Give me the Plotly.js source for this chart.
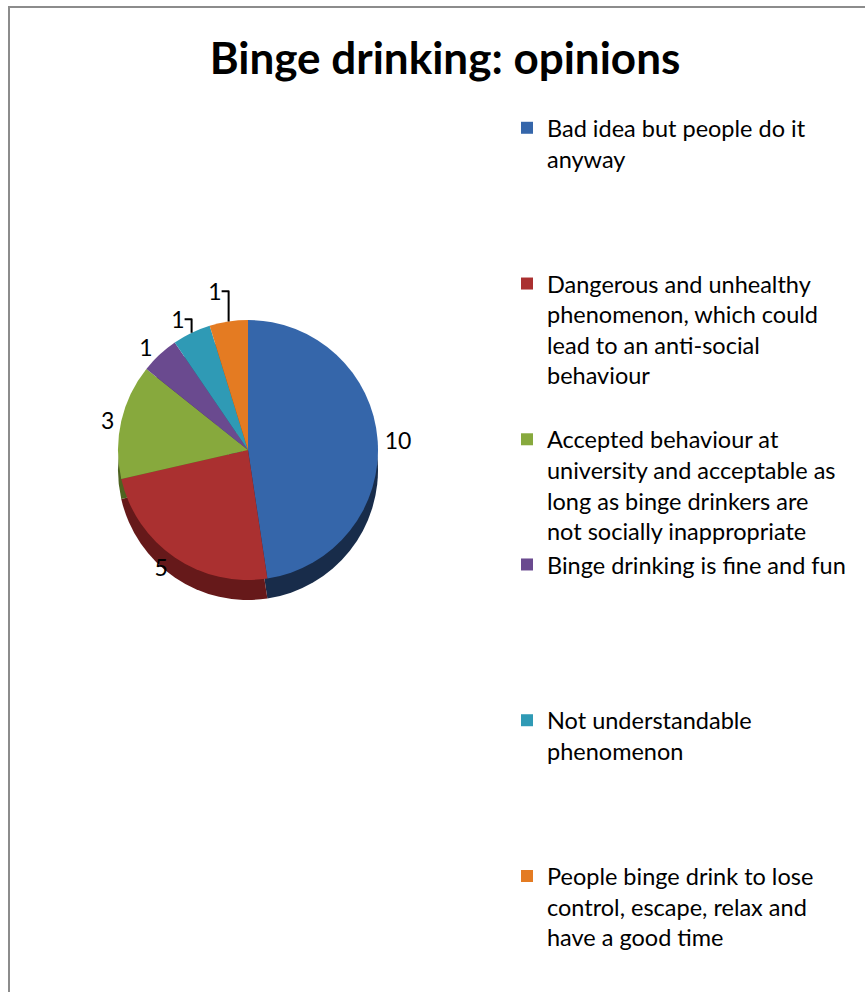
<!DOCTYPE html>
<html>
<head>
<meta charset="utf-8">
<script src="https://cdn.plot.ly/plotly-3.0.1.min.js"></script>
<style>
  html, body { margin: 0; padding: 0; background: #ffffff; }
  #chart { width: 865px; height: 992px; }
</style>
</head>
<body>
<div id="chart"></div>
<script>
// ---- data ----
const chartTitle = "Binge drinking: opinions";
const categories = [
  "Bad idea but people do it<br>anyway",
  "Dangerous and unhealthy<br>phenomenon, which could<br>lead to an anti-social<br>behaviour",
  "Accepted behaviour at<br>university and acceptable as<br>long as binge drinkers are<br>not socially inappropriate",
  "Binge drinking is fine and fun",
  "Not understandable<br>phenomenon",
  "People binge drink to lose<br>control, escape, relax and<br>have a good time"
];
const counts = [10, 5, 3, 1, 1, 1];

// ---- styles ----
const topColors  = ["#3566AA", "#AA3030", "#87A93D", "#6A4A8F", "#2F9AB5", "#E47B22"];
const sideColors = ["#182C4A", "#66191A", "#4E6320", "#3C2A55", "#1B5A6A", "#8A4812"];
const W = 865, H = 992;
const FONT = "Lato, 'Open Sans', sans-serif";
const legendFont = 23.5;
// number of text lines each legend entry occupies (spacing between entries)
const entryLines = [5, 5, 4, 5, 5, 3];

const legendLabels = categories.map(function (c, k) {
  const n = c.split("<br>").length;
  let s = c;
  for (let i = n; i < entryLines[k]; i++) s += "<br>\u00a0";
  return s;
});

const cx = 248, cy = 450, r = 130, depth = 20;
function dom(cxp, cyp) {
  return {
    x: [(cxp - r) / W, (cxp + r) / W],
    y: [1 - (cyp + r) / H, 1 - (cyp - r) / H]
  };
}

const sideTrace = {
  type: "pie",
  values: counts,
  labels: legendLabels,
  sort: false,
  direction: "clockwise",
  rotation: 0,
  domain: dom(cx, cy + depth),
  marker: { colors: sideColors, line: { width: 0 } },
  textinfo: "none",
  hoverinfo: "skip",
  showlegend: false
};

const topTrace = {
  type: "pie",
  values: counts,
  labels: legendLabels,
  sort: false,
  direction: "clockwise",
  rotation: 0,
  domain: dom(cx, cy),
  marker: { colors: topColors, line: { width: 0 } },
  textinfo: "value",
  textposition: "outside",
  outsidetextfont: { family: FONT, size: 23, color: "#000000" },
  hoverinfo: "label+value"
};

const layout = {
  width: W,
  height: H,
  margin: { l: 0, r: 0, t: 0, b: 0, autoexpand: false },
  paper_bgcolor: "#ffffff",
  plot_bgcolor: "#ffffff",
  font: { family: FONT, color: "#000000" },
  title: {
    text: "<b>" + chartTitle + "</b>",
    x: 445 / W, xref: "paper", xanchor: "center",
    y: 1 - 59 / H, yref: "paper", yanchor: "middle",
    font: { family: FONT, size: 44, color: "#000000" }
  },
  showlegend: true,
  legend: {
    x: 507 / W, xref: "paper", xanchor: "left",
    y: 1 - 106 / H, yref: "paper", yanchor: "top",
    valign: "top",
    maxheight: 1,
    font: { family: FONT, size: legendFont, color: "#000000" },
    bgcolor: "rgba(0,0,0,0)",
    borderwidth: 0,
    traceorder: "normal"
  },
  shapes: [{
    type: "rect", xref: "paper", yref: "paper",
    x0: 9 / W, x1: 1.05, y0: -0.05, y1: 1 - 7 / H,
    line: { color: "#8C8C8C", width: 2 },
    fillcolor: "rgba(0,0,0,0)",
    layer: "below"
  }]
};

Plotly.newPlot("chart", [sideTrace, topTrace], layout, { displayModeBar: false, staticPlot: true });
</script>
</body>
</html>
